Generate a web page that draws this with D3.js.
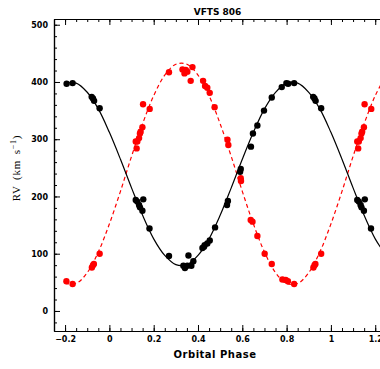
<!DOCTYPE html>
<html>
<head>
<meta charset="utf-8">
<script src="https://cdn.jsdelivr.net/npm/d3@7"></script>
<style>
  body { margin: 0; background: #fff; }
  svg { display: block; }
</style>
</head>
<body>
<div id="chart"></div>
<script>
// Observed radial velocities, base phase in [0,1)
const primaryPhase = [0.119, 0.126, 0.134, 0.138, 0.149, 0.153, 0.181, 0.269, 0.334, 0.341, 0.352, 0.357, 0.370, 0.379,
    0.420, 0.427, 0.430, 0.442, 0.453, 0.477, 0.531, 0.535, 0.590, 0.593, 0.639, 0.648, 0.668, 0.698, 0.733,
    0.778, 0.799, 0.807, 0.834, 0.920, 0.926, 0.931, 0.956]
const primaryRV = [194, 191, 185, 181, 175, 195, 144, 96, 79, 75, 79, 97, 79, 87,
    110, 112, 115, 118, 123, 146, 185, 192, 243, 248, 287, 310, 324, 350, 373,
    391, 398, 397, 398, 374, 371, 367, 354]

const secondaryPhase = [0.119, 0.123, 0.126, 0.134, 0.138, 0.141, 0.149, 0.152, 0.182, 0.269, 0.330, 0.339, 0.345,
    0.352, 0.367, 0.375, 0.423, 0.432, 0.442, 0.453, 0.475, 0.533, 0.537, 0.593, 0.594, 0.638, 0.646, 0.668,
    0.701, 0.733, 0.781, 0.796, 0.806, 0.834, 0.921, 0.926, 0.930, 0.956]
const secondaryRV = [296, 284, 296, 302, 310, 313, 321, 361, 353, 417, 422, 415, 421,
    418, 402, 426, 402, 393, 390, 381, 356, 299, 290, 232, 227, 159, 156, 131,
    100, 82, 55, 54, 52, 47, 76, 80, 82, 100]

// Orbital solution curves
const curvePhase = [-0.2, -0.15, -0.1, -0.05, 0, 0.05, 0.1, 0.15, 0.2, 0.25, 0.3, 0.35, 0.4, 0.45, 0.5,
    0.55, 0.6, 0.65, 0.7, 0.75, 0.8, 0.85, 0.9, 0.95, 1, 1.05, 1.1, 1.15, 1.2, 1.25]
const primaryCurve = [398, 398, 382, 353, 312, 265, 215, 167, 126, 97, 81, 81, 97, 126, 167,
    215, 265, 312, 353, 382, 398, 398, 382, 353, 312, 265, 215, 167, 126, 97]
const secondaryCurve = [48, 48, 67, 103, 152, 209, 270, 327, 376, 412, 431, 431, 412, 376, 327,
    270, 209, 152, 103, 67, 48, 48, 67, 103, 152, 209, 270, 327, 376, 412]

const xTicks = [-0.2, 0, 0.2, 0.4, 0.6, 0.8, 1, 1.2]
const yTicks = [0, 100, 200, 300, 400, 500]

const W = 380
const H = 369
const plotLeft = 54
const plotRight = 386.3
const plotTop = 19
const plotBottom = 331
const tickFont = 'DejaVu Sans, sans-serif'

const svg = d3.select('#chart')
    .append('svg')
    .attr('width', W)
    .attr('height', H)

const x = d3.scaleLinear().domain([-0.25, 1.25]).range([plotLeft, plotRight])
const y = d3.scaleLinear().domain([-35, 510]).range([plotBottom, plotTop])

// repeat each observation one cycle earlier / later while inside [-0.2, 1.2]
function unfold(phases, rvs) {
    const out = []
    phases.forEach((p, i) => {
        [-1, 0, 1].forEach((s) => {
            const q = p + s
            if (q >= -0.2 && q <= 1.2) out.push({ phase: q, rv: rvs[i] })
        })
    })
    return out
}

const fmt = (d) => d3.format('~g')(d)
const xMinor = d3.range(-0.25, 1.2501, 0.05).map((d) => +d.toFixed(2))
const yMinor = d3.range(-20, 510, 20)

function styleAxis(g) {
    g.select('.domain').attr('stroke', '#000').attr('stroke-width', 1.2)
    g.selectAll('.tick line').attr('stroke', '#000').attr('stroke-width', 1)
    g.selectAll('.tick text')
        .attr('fill', '#000')
        .style('font-family', tickFont)
        .style('font-weight', 'bold')
        .style('font-size', '8px')
}

// minor ticks
svg.append('g').attr('transform', `translate(0,${plotBottom})`)
    .call(d3.axisBottom(x).tickValues(xMinor).tickSize(-3).tickFormat('').tickSizeOuter(0)).call(styleAxis)
svg.append('g').attr('transform', `translate(0,${plotTop})`)
    .call(d3.axisTop(x).tickValues(xMinor).tickSize(-3).tickFormat('').tickSizeOuter(0)).call(styleAxis)
svg.append('g').attr('transform', `translate(${plotLeft},0)`)
    .call(d3.axisLeft(y).tickValues(yMinor).tickSize(-3).tickFormat('').tickSizeOuter(0)).call(styleAxis)
svg.append('g').attr('transform', `translate(${plotRight},0)`)
    .call(d3.axisRight(y).tickValues(yMinor).tickSize(-3).tickFormat('').tickSizeOuter(0)).call(styleAxis)

// major ticks
svg.append('g').attr('transform', `translate(0,${plotBottom})`)
    .call(d3.axisBottom(x).tickValues(xTicks).tickSize(-6).tickPadding(5).tickFormat(fmt).tickSizeOuter(0))
    .call(styleAxis)
svg.append('g').attr('transform', `translate(0,${plotTop})`)
    .call(d3.axisTop(x).tickValues(xTicks).tickSize(-6).tickFormat('').tickSizeOuter(0)).call(styleAxis)
svg.append('g').attr('transform', `translate(${plotLeft},0)`)
    .call(d3.axisLeft(y).tickValues(yTicks).tickSize(-6).tickPadding(6).tickFormat(fmt).tickSizeOuter(0))
    .call(styleAxis)
svg.append('g').attr('transform', `translate(${plotRight},0)`)
    .call(d3.axisRight(y).tickValues(yTicks).tickSize(-6).tickFormat('').tickSizeOuter(0)).call(styleAxis)

// curves
const line = d3.line().x((d) => x(d[0])).y((d) => y(d[1])).curve(d3.curveCatmullRom)
const plot = svg.append('g')

plot.append('path')
    .datum(d3.zip(curvePhase, secondaryCurve))
    .attr('d', line)
    .attr('fill', 'none')
    .attr('stroke', '#ff0000')
    .attr('stroke-width', 1.2)
    .attr('stroke-dasharray', '4,3')

plot.append('path')
    .datum(d3.zip(curvePhase, primaryCurve))
    .attr('d', line)
    .attr('fill', 'none')
    .attr('stroke', '#000')
    .attr('stroke-width', 1.2)

// points
plot.append('g').selectAll('circle')
    .data(unfold(secondaryPhase, secondaryRV))
    .join('circle')
    .attr('cx', (d) => x(d.phase))
    .attr('cy', (d) => y(d.rv))
    .attr('r', 3.2)
    .attr('fill', '#ff0000')

plot.append('g').selectAll('circle')
    .data(unfold(primaryPhase, primaryRV))
    .join('circle')
    .attr('cx', (d) => x(d.phase))
    .attr('cy', (d) => y(d.rv))
    .attr('r', 3.2)
    .attr('fill', '#000')

// labels
svg.append('text')
    .attr('x', 217.5).attr('y', 15)
    .attr('text-anchor', 'middle')
    .style('font-family', tickFont).style('font-weight', 'bold').style('font-size', '9px')
    .text('VFTS 806')

svg.append('text')
    .attr('x', 215).attr('y', 358)
    .attr('text-anchor', 'middle')
    .style('font-family', tickFont).style('font-weight', 'bold').style('font-size', '10px')
    .style('letter-spacing', '0.5px')
    .text('Orbital Phase')

const yLabel = svg.append('text')
    .attr('transform', 'translate(20,168) rotate(-90)')
    .attr('text-anchor', 'middle')
    .style('font-family', 'Liberation Serif, serif').style('font-size', '11px')
    .style('letter-spacing', '0.8px').style('word-spacing', '2px')
yLabel.append('tspan').text('RV (km s')
yLabel.append('tspan').attr('dy', -4).style('font-size', '8px').text('−1')
yLabel.append('tspan').attr('dy', 4).text(')')
</script>
</body>
</html>
